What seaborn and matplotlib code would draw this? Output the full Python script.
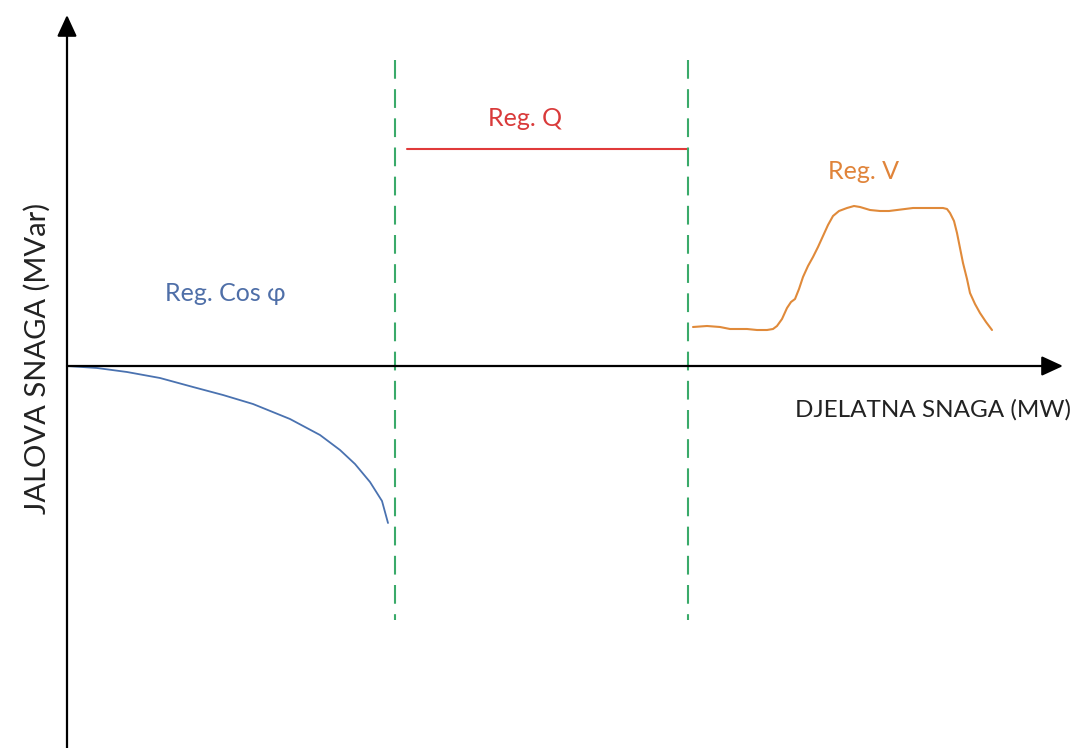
import numpy as np
import pandas as pd
import seaborn as sns
import matplotlib.pyplot as plt

# Reg. Cos phi curve (active power, reactive power)
cos_p = [0, 30, 60, 93, 126, 156, 186, 223, 253, 273, 288, 303, 315, 321]
cos_q = [0, -2, -6, -12, -21, -29, -38, -53, -69, -84, -98, -116, -135, -157]

# Reg. Q line
q_p = [340, 620]
q_q = [217, 217]

# Reg. V curve
v_p = [626, 640, 653, 663, 672, 680, 690, 700, 706, 710, 715, 720, 724, 728, 732,
       736, 741, 746, 751, 756, 761, 766, 772, 780, 787, 793, 803, 813, 822, 830,
       838, 846, 861, 876, 880, 883, 887, 890, 893, 896, 900, 903, 908, 913, 919, 925]
v_q = [39, 40, 39, 37, 37, 37, 36, 36, 37, 40, 47, 58, 64, 67, 77,
       89, 100, 109, 119, 130, 141, 150, 155, 158, 160, 159, 156, 155, 155, 156,
       157, 158, 158, 158, 157, 153, 145, 133, 118, 103, 87, 73, 62, 53, 44, 36]

# region borders
borders = [328, 621]

sns.set_style('white')
plt.rcParams['font.family'] = ['Lato', 'DejaVu Sans']

fig = plt.figure(figsize=(10.83, 7.48), dpi=100)
ax = fig.add_axes([0, 0, 1, 1])

cos_df = pd.DataFrame({'P': cos_p, 'Q': cos_q})
q_df = pd.DataFrame({'P': q_p, 'Q': q_q})
v_df = pd.DataFrame({'P': v_p, 'Q': v_q})

sns.lineplot(x='P', y='Q', data=cos_df, color='#4a72b0', lw=1.3, sort=False, estimator=None, ax=ax)
sns.lineplot(x='P', y='Q', data=q_df, color='#e03a3a', lw=1.5, sort=False, estimator=None, ax=ax)
sns.lineplot(x='P', y='Q', data=v_df, color='#e08a3a', lw=1.5, sort=False, estimator=None, ax=ax)

for b in borders:
    ax.plot([b, b], [306, -254], color='#3aaa6a', lw=1.5, dashes=(9, 5))

# axes as arrows
arrow = dict(arrowstyle='-|>,head_length=0.65,head_width=0.3', mutation_scale=20,
             color='black', lw=1.6, shrinkA=0, shrinkB=0)
ax.annotate('', xy=(0, 351), xytext=(0, -382), arrowprops=arrow)
ax.annotate('', xy=(996, 0), xytext=(0, 0), arrowprops=arrow)

ax.text(458, 248, 'Reg. Q', color='#d93a3a', fontsize=18, ha='center', va='center')
ax.text(797, 195, 'Reg. V', color='#e0843a', fontsize=18, ha='center', va='center')
ax.text(158, 73, 'Reg. Cos φ', color='#4f6fa8', fontsize=18, ha='center', va='center')
ax.text(866, -44, 'DJELATNA SNAGA (MW)', color='#222222', fontsize=17.5, ha='center', va='center')
ax.text(-30, 8, 'JALOVA SNAGA (MVar)', color='#222222', fontsize=21, ha='center', va='center',
        rotation=90)

ax.set_xlim(-67, 1016)
ax.set_ylim(-382, 366)
ax.axis('off')

plt.savefig('out.png', dpi=100)
